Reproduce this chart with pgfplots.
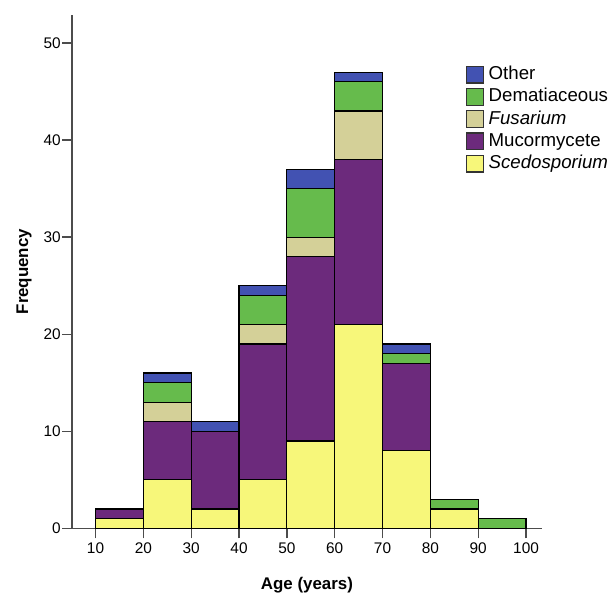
\documentclass[border=0pt]{standalone}
\usepackage{fontspec}
\setmainfont{Liberation Sans}
\usepackage{pgfplots}
\pgfplotsset{compat=1.18}
\definecolor{cOther}{RGB}{66,82,178}
\definecolor{cDem}{RGB}{102,187,76}
\definecolor{cFus}{RGB}{212,208,152}
\definecolor{cMuc}{RGB}{108,42,124}
\definecolor{cSce}{RGB}{247,247,122}
\begin{document}
\begin{tikzpicture}
\begin{axis}[
scale only axis, width=236.5pt, height=258.5pt,
ybar stacked, bar width=10,
xmin=5.1, xmax=103.3, ymin=0, ymax=52.9,
axis lines*=left,
axis line style={line width=0.7pt, black!70},
xtick={10,20,...,100}, ytick={0,10,...,50},
tick align=outside, major tick length=5pt,
tick style={line width=0.7pt, black!70},
minor tick num=0,
/pgf/number format/assume math mode=true,
tick label style={font=\fontsize{7.75}{9}\selectfont},
yticklabel style={inner xsep=0.5pt},
xticklabel style={inner ysep=2pt},
xlabel={\bfseries Age (years)}, ylabel={\bfseries Frequency},
label style={font=\fontsize{8.5}{10}\selectfont},
xlabel style={yshift=-6.5pt},
ylabel style={yshift=2pt},
reverse legend,
legend cell align=left,
legend style={draw=none, fill=none, at={(0.837,0.902)}, anchor=north west,
  font=\fontsize{9.4}{11}\selectfont, row sep=2.1pt, inner sep=0pt,
  nodes={text height=7pt, text depth=2pt, inner ysep=0pt, inner xsep=2.5pt}},
legend image code/.code={\draw[#1,draw=black!80,line width=0.6pt] (0pt,-4.25pt) rectangle (8.5pt,4.25pt);},
every axis plot/.append style={draw=black, line width=0.6pt},
]
\addplot[fill=cSce] coordinates {(15,1) (25,5) (35,2) (45,5) (55,9) (65,21) (75,8) (85,2) (95,0)};
\addplot[fill=cMuc] coordinates {(15,1) (25,6) (35,8) (45,14) (55,19) (65,17) (75,9) (85,0) (95,0)};
\addplot[fill=cFus] coordinates {(15,0) (25,2) (35,0) (45,2) (55,2) (65,5) (75,0) (85,0) (95,0)};
\addplot[fill=cDem] coordinates {(15,0) (25,2) (35,0) (45,3) (55,5) (65,3) (75,1) (85,1) (95,1)};
\addplot[fill=cOther] coordinates {(15,0) (25,1) (35,1) (45,1) (55,2) (65,1) (75,1) (85,0) (95,0)};
\legend{\textit{Scedosporium}, Mucormycete, \textit{Fusarium}, Dematiaceous, Other}
\end{axis}
\path ([yshift=7.5pt]current axis.north) ([xshift=-5pt]current axis.outer west);
\end{tikzpicture}
\end{document}
